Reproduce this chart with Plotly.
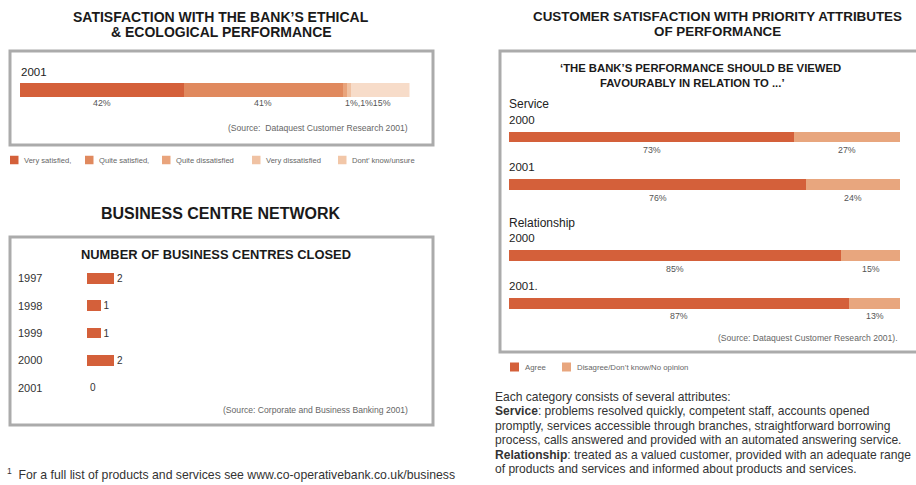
import plotly.graph_objects as go

# ---- data -------------------------------------------------------------
ethical_year = "2001"
ethical_cats = ["Very satisfied", "Quite satisfied", "Quite dissatisfied",
                "Very dissatisfied", "Dont' know/unsure"]
ethical_vals = [42, 41, 1, 1, 15]

centre_years = ["1997", "1998", "1999", "2000", "2001"]
centres_closed = [2, 1, 1, 2, 0]

attr_groups = ["Service", "Relationship"]
attr_years = ["2000", "2001"]
agree = [73, 76, 85, 87]
disagree = [27, 24, 15, 13]

notes = [
    "Each category consists of several attributes:",
    "<b>Service</b>: problems resolved quickly, competent staff, accounts "
    "opened",
    "promptly, services accessible through branches, straightforward "
    "borrowing",
    "process, calls answered and provided with an automated answering "
    "service.",
    "<b>Relationship</b>: treated as a valued customer, provided with an "
    "adequate range",
    "of products and services and informed about products and services.",
]

# ---- styling ----------------------------------------------------------
W, H = 916, 485
FONT = "Liberation Sans, Arial, Helvetica, sans-serif"
ethical_colors = ["#d4603a", "#e0895e", "#e9a47c", "#f0c2a3", "#f7dcc9"]
legend_colors = ["#d4603a", "#e0895e", "#e9a47c", "#f0c2a3", "#f2c7a8"]
AGREE_C = "#d4603a"
DISAGREE_C = "#e8a67e"
BORDER = "#ababab"
SRC_SIZE = 8.6


def px(x):
    return x / W


def py(y):
    return 1 - y / H


fig = go.Figure()
ann = []
shapes = []


def text(x, y, s, size, color="#222", bold=False, xanchor="left",
         yanchor="middle", **kw):
    if bold:
        s = "<b>" + s + "</b>"
    d = dict(x=x, y=y, text=s, showarrow=False, xanchor=xanchor,
             yanchor=yanchor, font=dict(family=FONT, size=size, color=color))
    d.setdefault("xref", "paper")
    d.setdefault("yref", "paper")
    d.update(kw)
    ann.append(d)


def box(x0, y0, x1, y1):
    shapes.append(dict(type="rect", xref="paper", yref="paper",
                       x0=px(x0), x1=px(x1), y0=py(y1), y1=py(y0),
                       line=dict(color=BORDER, width=3),
                       fillcolor="rgba(0,0,0,0)", layer="below"))


def swatch(x0, yc, size, color):
    shapes.append(dict(type="rect", xref="paper", yref="paper",
                       x0=px(x0), x1=px(x0 + size),
                       y0=py(yc + size / 2), y1=py(yc - size / 2),
                       line=dict(width=0), fillcolor=color))


# ---- ethical & ecological performance (stacked bar) -------------------
for name, v, c in zip(ethical_cats, ethical_vals, ethical_colors):
    fig.add_trace(go.Bar(x=[v], y=[0], orientation="h", name=name,
                         marker=dict(color=c, line=dict(width=0)),
                         width=1, xaxis="x", yaxis="y", showlegend=False,
                         hoverinfo="skip"))

cum = 0
starts = []
for v in ethical_vals:
    starts.append(cum)
    cum += v
# the two large segments are labelled at their centres
for i in range(2):
    text(starts[i] + ethical_vals[i] / 2, py(103), f"{ethical_vals[i]}%",
         8.8, "#555", xanchor="center", xref="x")
# the narrow segments and the last one share a single run of text
tail = ",".join(f"{v}%" for v in ethical_vals[2:4]) + f"{ethical_vals[4]}%"
text(starts[2], py(103), tail, 8.8, "#555", xanchor="left", xref="x")

text(px(19), py(72), ethical_year, 11.5, "#222")
text(px(410), py(128), "(Source:  Dataquest Customer Research 2001)",
     SRC_SIZE, "#666", xanchor="right")
box(10, 51, 433, 145)

text(px(221), py(17), "SATISFACTION WITH THE BANK’S ETHICAL", 14,
     "#1a1a1a", bold=True, xanchor="center")
text(px(221), py(32), "&amp; ECOLOGICAL PERFORMANCE", 14, "#1a1a1a",
     bold=True, xanchor="center")

leg_x = [10, 85, 162, 252, 338]
leg_labels = ["Very satisfied,", "Quite satisfied,", "Quite dissatisfied",
              "Very dissatisfied", "Dont’ know/unsure"]
for x0, lab, c in zip(leg_x, leg_labels, legend_colors):
    swatch(x0, 160, 8.5, c)
    text(px(x0 + 12), py(160.5), lab, 7.6, "#666")

# ---- business centre network -----------------------------------------
year_idx = list(range(len(centre_years)))
fig.add_trace(go.Bar(x=centres_closed, y=year_idx, orientation="h",
                     marker=dict(color=AGREE_C, line=dict(width=0)),
                     width=0.4, text=[str(v) for v in centres_closed],
                     textposition="outside", cliponaxis=False,
                     textfont=dict(family=FONT, size=11, color="#333"),
                     xaxis="x2", yaxis="y2", showlegend=False,
                     hoverinfo="skip"))
for i, yr in zip(year_idx, centre_years):
    text(px(16), i, yr, 11, "#333", yref="y2")

text(px(221), py(213), "BUSINESS CENTRE NETWORK", 16, "#1a1a1a",
     bold=True, xanchor="center")
text(px(216), py(254), "NUMBER OF BUSINESS CENTRES CLOSED", 12.9,
     "#1a1a1a", bold=True, xanchor="center")
text(px(410), py(410), "(Source: Corporate and Business Banking 2001)",
     SRC_SIZE, "#666", xanchor="right")
box(10, 237, 433, 425)

text(px(5), py(474),
     "<sup>1</sup>  For a full list of products and services see "
     "www.co-operativebank.co.uk/business", 12.25, "#333")

# ---- priority attributes (stacked 100% bars) ---------------------------
row_pos = []
row_lab = []
for g, grp in enumerate(attr_groups):
    for r, yr in enumerate(attr_years):
        row_pos.append(g * 2.5 + r)
        row_lab.append(yr + ("." if g == 1 and r == 1 else ""))

fig.add_trace(go.Bar(x=agree, y=row_pos, orientation="h", name="Agree",
                     marker=dict(color=AGREE_C, line=dict(width=0)),
                     width=0.23, xaxis="x3", yaxis="y3", showlegend=False,
                     hoverinfo="skip"))
fig.add_trace(go.Bar(x=disagree, y=row_pos, orientation="h",
                     name="Disagree/Don't know/No opinion",
                     marker=dict(color=DISAGREE_C, line=dict(width=0)),
                     width=0.23, xaxis="x3", yaxis="y3", showlegend=False,
                     hoverinfo="skip"))

for i, (p, lab) in enumerate(zip(row_pos, row_lab)):
    text(agree[i] / 2, p, f"{agree[i]}%", 8.8, "#555", xanchor="center",
         xref="x3", yref="y3", yshift=-13)
    text(agree[i] + disagree[i] / 2, p, f"{disagree[i]}%", 8.8, "#555",
         xanchor="center", xref="x3", yref="y3", yshift=-13)
    text(px(507), p, lab, 11.5, "#222", yref="y3", yshift=17.5)
for g, grp in enumerate(attr_groups):
    text(px(507), row_pos[g * 2], grp, 12, "#222", yref="y3", yshift=33)

text(px(717), py(17), "CUSTOMER SATISFACTION WITH PRIORITY ATTRIBUTES",
     13.4, "#1a1a1a", bold=True, xanchor="center")
text(px(717), py(32), "OF PERFORMANCE", 13.4, "#1a1a1a", bold=True,
     xanchor="center")
text(px(700), py(68), "‘THE BANK’S PERFORMANCE SHOULD BE VIEWED", 11.3,
     "#1a1a1a", bold=True, xanchor="center")
text(px(692), py(83), "FAVOURABLY IN RELATION TO ...’", 11.3, "#1a1a1a",
     bold=True, xanchor="center")
text(px(900), py(338), "(Source: Dataquest Customer Research 2001).",
     SRC_SIZE, "#666", xanchor="right")
box(500, 51, 930, 352)

swatch(510, 367, 9, AGREE_C)
text(px(523), py(367), "Agree", 7.8, "#666")
swatch(562, 367, 9, DISAGREE_C)
text(px(575), py(367), "Disagree/Don’t know/No opinion", 7.8, "#666")

for k, line in enumerate(notes):
    text(px(493), py(397 + k * 14.4), line, 12.05, "#333")

# ---- axes ---------------------------------------------------------------
hidden = dict(visible=False, showgrid=False, zeroline=False, fixedrange=True)
unit = 47.5
fig.update_layout(
    width=W, height=H, margin=dict(l=0, r=0, t=0, b=0),
    paper_bgcolor="white", plot_bgcolor="rgba(0,0,0,0)",
    barmode="stack", showlegend=False,
    xaxis=dict(hidden, domain=[px(20), px(409.5)], range=[0, 100]),
    yaxis=dict(hidden, domain=[py(97), py(83)], range=[-0.5, 0.5]),
    xaxis2=dict(hidden, domain=[px(87), px(411)], range=[0, 24]),
    yaxis2=dict(hidden, domain=[py(401.5), py(264.5)], range=[4.5, -0.5]),
    xaxis3=dict(hidden, domain=[px(509), px(900)], range=[0, 100]),
    yaxis3=dict(hidden, domain=[py(137 + 4 * unit), py(137 - 0.5 * unit)],
                range=[4, -0.5]),
    annotations=ann, shapes=shapes,
)

fig.write_html("out.html")
